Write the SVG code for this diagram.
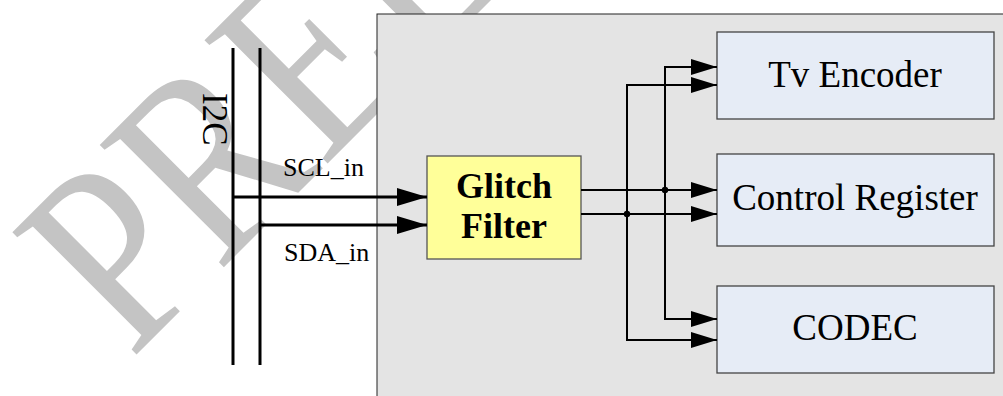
<svg xmlns="http://www.w3.org/2000/svg" width="1003" height="396" viewBox="0 0 1003 396">
<style>
.t{font-family:"Liberation Serif","Times New Roman",serif;fill:#000}
.lbl{font-size:37px;text-anchor:middle}
.sig{font-size:26px}
.w{stroke:#000;fill:none}
.blk{fill:#e6ecf6;stroke:#444;stroke-width:1.3}
</style>
<defs>
<marker id="ahIn" markerUnits="userSpaceOnUse" markerWidth="30" markerHeight="18" refX="30" refY="9" orient="auto"><path d="M0,0 L30,9 L0,18 z" fill="#000"/></marker>
<marker id="ahOut" markerUnits="userSpaceOnUse" markerWidth="26" markerHeight="16" refX="26" refY="8" orient="auto"><path d="M0,0 L26,8 L0,16 z" fill="#000"/></marker>
</defs>
<rect width="1003" height="396" fill="#fff"/>
<text transform="translate(131,360) rotate(-45) scale(0.835,1)" font-family="Liberation Serif, serif" font-size="266" fill="#c4c4c4">PRELIMINARY</text>
<g id="container"><rect x="377" y="14" width="700" height="420" fill="#e4e4e4" stroke="#222" stroke-width="1"/></g>
<g id="i2c-bus">
<line x1="233" y1="48" x2="233" y2="365" stroke="#000" stroke-width="3"/>
<line x1="260" y1="48" x2="260" y2="365" stroke="#000" stroke-width="3"/>
<text class="t" transform="translate(203,93) rotate(90)" font-size="35">I2C</text>
</g>
<g id="glitch-filter">
<rect x="427" y="156" width="154" height="103" fill="#ffff99" stroke="#555" stroke-width="1.3"/>
<text class="t" x="504" y="198" font-size="36" font-weight="bold" text-anchor="middle">Glitch</text>
<text class="t" x="504" y="238" font-size="36" font-weight="bold" text-anchor="middle">Filter</text>
</g>
<g id="tv-encoder"><rect class="blk" x="717" y="32" width="277" height="87"/><text class="t lbl" x="855" y="87">Tv Encoder</text></g>
<g id="control-register"><rect class="blk" x="717" y="154" width="277" height="92"/><text class="t lbl" x="855" y="210">Control Register</text></g>
<g id="codec"><rect class="blk" x="717" y="286" width="277" height="87"/><text class="t lbl" x="855" y="340">CODEC</text></g>
<g id="connectors">
<path class="w" d="M233,197 H427" stroke-width="3" marker-end="url(#ahIn)"/>
<path class="w" d="M260,225 H427" stroke-width="3" marker-end="url(#ahIn)"/>
<text class="t sig" x="283" y="176">SCL_in</text>
<text class="t sig" x="284" y="261">SDA_in</text>
<path class="w" d="M581,190 H717" stroke-width="2" marker-end="url(#ahOut)"/>
<path class="w" d="M581,214 H717" stroke-width="2" marker-end="url(#ahOut)"/>
<path class="w" d="M665,190 V67 H717" stroke-width="2" marker-end="url(#ahOut)"/>
<path class="w" d="M665,190 V319 H717" stroke-width="2" marker-end="url(#ahOut)"/>
<path class="w" d="M627,214 V85 H717" stroke-width="2" marker-end="url(#ahOut)"/>
<path class="w" d="M627,214 V340 H717" stroke-width="2" marker-end="url(#ahOut)"/>
<circle cx="665" cy="190" r="3.2" fill="#000"/>
<circle cx="627" cy="214" r="3.2" fill="#000"/>
</g>
</svg>
